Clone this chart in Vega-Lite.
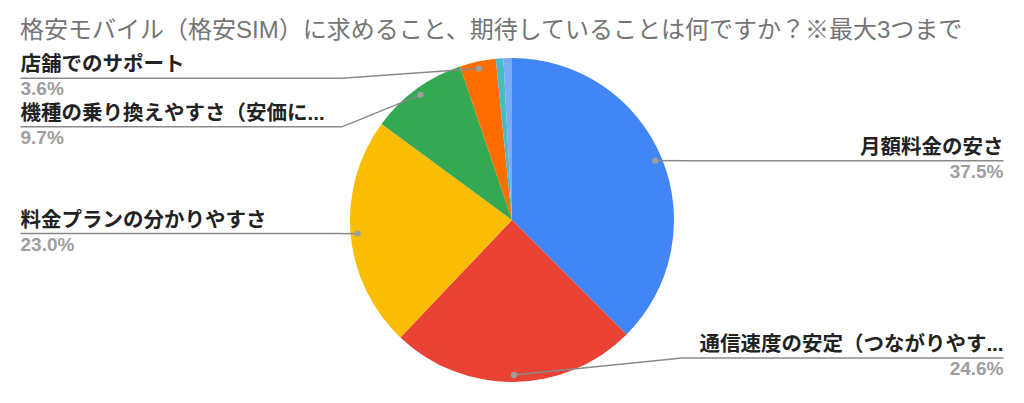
{
  "$schema": "https://vega.github.io/schema/vega-lite/v6.json",
  "width": 1024,
  "height": 350,
  "autosize": "none",
  "padding": {"top": 45, "left": 0, "right": 0, "bottom": 8},
  "background": "white",
  "title": {
    "text": "格安モバイル（格安SIM）に求めること、期待していることは何ですか？※最大3つまで",
    "anchor": "start",
    "frame": "group",
    "dx": 20,
    "dy": 6,
    "offset": 8,
    "fontSize": 24,
    "fontWeight": "normal",
    "color": "#757575",
    "font": "Liberation Sans, Noto Sans CJK JP"
  },
  "config": {"view": {"stroke": null}},
  "data": {
    "values": [
      {"id": 1, "label": "月額料金の安さ", "value": 37.5},
      {"id": 2, "label": "通信速度の安定（つながりやす...", "value": 24.6},
      {"id": 3, "label": "料金プランの分かりやすさ", "value": 23.0},
      {"id": 4, "label": "機種の乗り換えやすさ（安価に...", "value": 9.7},
      {"id": 5, "label": "店舗でのサポート", "value": 3.6},
      {"id": 6, "label": "その他", "value": 0.75},
      {"id": 7, "label": "特になし", "value": 0.85}
    ]
  },
  "transform": [
    {"joinaggregate": [{"op": "sum", "field": "value", "as": "total"}]},
    {"window": [{"op": "sum", "field": "value", "as": "cum"}], "sort": [{"field": "id"}], "frame": [null, 0]},
    {"calculate": "(datum.cum - datum.value / 2) / datum.total * 2 * PI", "as": "mid"},
    {"calculate": "datum.value / datum.total", "as": "share"},
    {"calculate": "0.957 * sin(datum.mid)", "as": "dotX"},
    {"calculate": "0.957 * cos(datum.mid)", "as": "dotY"},
    {"calculate": "datum.dotX >= 0 ? 1 : -1", "as": "side"},
    {"calculate": "clamp(datum.dotY, -0.852, 0.875)", "as": "cy"}
  ],
  "layer": [
    {
      "mark": {"type": "arc", "outerRadius": 162},
      "encoding": {
        "theta": {"field": "value", "type": "quantitative", "stack": true},
        "order": {"field": "id", "type": "quantitative"},
        "color": {
          "field": "label",
          "type": "nominal",
          "legend": null,
          "scale": {
            "domain": ["月額料金の安さ", "通信速度の安定（つながりやす...", "料金プランの分かりやすさ", "機種の乗り換えやすさ（安価に...", "店舗でのサポート", "その他", "特になし"],
            "range": ["#4285f4", "#ea4335", "#fbbc04", "#34a853", "#ff6d01", "#46bdc6", "#7baaf7"]
          }
        }
      }
    },
    {
      "transform": [
        {"filter": "datum.share >= 0.02"},
        {"window": [{"op": "lag", "field": "cy", "as": "prevCy"}], "groupby": ["side"], "sort": [{"field": "dotY", "order": "descending"}]},
        {"calculate": "datum.prevCy == null ? datum.cy : min(datum.cy, datum.prevCy - 0.30)", "as": "lineY"},
        {"calculate": "datum.side * 1.05", "as": "elbowX"},
        {"calculate": "datum.side * 3.034", "as": "endX"}
      ],
      "layer": [
        {
          "mark": {"type": "rule", "color": "#8a8a8a", "strokeWidth": 1.5},
          "encoding": {
            "x": {"field": "dotX", "type": "quantitative", "axis": null, "scale": {"domain": [-3.16049, 3.16049], "nice": false, "zero": false}},
            "y": {"field": "dotY", "type": "quantitative", "axis": null, "scale": {"domain": [-1.08025, 1.08025], "nice": false, "zero": false}},
            "x2": {"field": "elbowX"},
            "y2": {"field": "lineY"}
          }
        },
        {
          "mark": {"type": "rule", "color": "#8a8a8a", "strokeWidth": 1.5},
          "encoding": {
            "x": {"field": "elbowX", "type": "quantitative", "axis": null, "scale": {"domain": [-3.16049, 3.16049], "nice": false, "zero": false}},
            "y": {"field": "lineY", "type": "quantitative", "axis": null, "scale": {"domain": [-1.08025, 1.08025], "nice": false, "zero": false}},
            "x2": {"field": "endX"}
          }
        },
        {
          "mark": {"type": "point", "filled": true, "color": "#9e9e9e", "size": 40, "opacity": 1},
          "encoding": {
            "x": {"field": "dotX", "type": "quantitative", "axis": null, "scale": {"domain": [-3.16049, 3.16049], "nice": false, "zero": false}},
            "y": {"field": "dotY", "type": "quantitative", "axis": null, "scale": {"domain": [-1.08025, 1.08025], "nice": false, "zero": false}}
          }
        },
        {
          "transform": [{"filter": "datum.side == 1"}],
          "mark": {"type": "text", "align": "right", "baseline": "alphabetic", "dy": -7, "fontSize": 20.5, "fontWeight": "bold", "color": "#222222", "font": "Liberation Sans, Noto Sans CJK JP"},
          "encoding": {
            "x": {"field": "endX", "type": "quantitative", "axis": null, "scale": {"domain": [-3.16049, 3.16049], "nice": false, "zero": false}},
            "y": {"field": "lineY", "type": "quantitative", "axis": null, "scale": {"domain": [-1.08025, 1.08025], "nice": false, "zero": false}},
            "text": {"field": "label", "type": "nominal"}
          }
        },
        {
          "transform": [{"filter": "datum.side == -1"}],
          "mark": {"type": "text", "align": "left", "baseline": "alphabetic", "dy": -7, "fontSize": 20.5, "fontWeight": "bold", "color": "#222222", "font": "Liberation Sans, Noto Sans CJK JP"},
          "encoding": {
            "x": {"field": "endX", "type": "quantitative", "axis": null, "scale": {"domain": [-3.16049, 3.16049], "nice": false, "zero": false}},
            "y": {"field": "lineY", "type": "quantitative", "axis": null, "scale": {"domain": [-1.08025, 1.08025], "nice": false, "zero": false}},
            "text": {"field": "label", "type": "nominal"}
          }
        },
        {
          "transform": [{"filter": "datum.side == 1"}],
          "mark": {"type": "text", "align": "right", "baseline": "top", "dy": 2, "fontSize": 19, "fontWeight": "bold", "color": "#9e9e9e", "font": "Liberation Sans, Noto Sans CJK JP"},
          "encoding": {
            "x": {"field": "endX", "type": "quantitative", "axis": null, "scale": {"domain": [-3.16049, 3.16049], "nice": false, "zero": false}},
            "y": {"field": "lineY", "type": "quantitative", "axis": null, "scale": {"domain": [-1.08025, 1.08025], "nice": false, "zero": false}},
            "text": {"field": "share", "type": "quantitative", "format": ".1%"}
          }
        },
        {
          "transform": [{"filter": "datum.side == -1"}],
          "mark": {"type": "text", "align": "left", "baseline": "top", "dy": 2, "fontSize": 19, "fontWeight": "bold", "color": "#9e9e9e", "font": "Liberation Sans, Noto Sans CJK JP"},
          "encoding": {
            "x": {"field": "endX", "type": "quantitative", "axis": null, "scale": {"domain": [-3.16049, 3.16049], "nice": false, "zero": false}},
            "y": {"field": "lineY", "type": "quantitative", "axis": null, "scale": {"domain": [-1.08025, 1.08025], "nice": false, "zero": false}},
            "text": {"field": "share", "type": "quantitative", "format": ".1%"}
          }
        }
      ]
    }
  ]
}
